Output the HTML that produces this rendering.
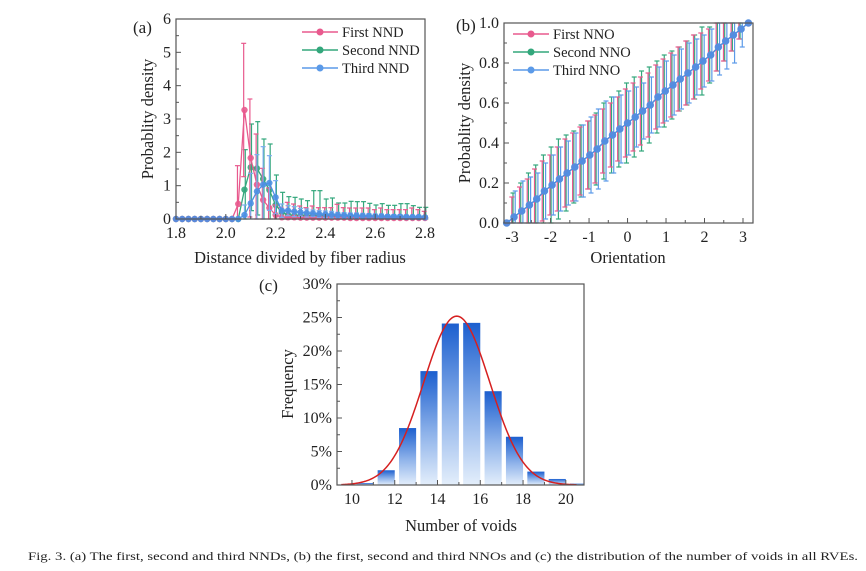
<!DOCTYPE html>
<html><head><meta charset="utf-8"><style>
html,body{margin:0;padding:0;background:#fff;}
svg{display:block;font-family:"Liberation Serif",serif;}
</style></head><body>
<svg id="fig" width="866" height="571" viewBox="0 0 866 571" xmlns="http://www.w3.org/2000/svg">
<defs>
<linearGradient id="barGrad" x1="0" y1="0" x2="0" y2="1">
<stop offset="0" stop-color="#1c5fcf"/><stop offset="0.55" stop-color="#8fb3ea"/><stop offset="1" stop-color="#e3eefb"/>
</linearGradient>
</defs>
<g id="pa"></g>
<g id="pb"></g>
<g id="pc"></g>
<text x="28" y="560" font-size="11.5" textLength="830" lengthAdjust="spacingAndGlyphs" fill="#222">Fig. 3. (a) The first, second and third NNDs, (b) the first, second and third NNOs and (c) the distribution of the number of voids in all RVEs.</text>
</svg>
<script>
// ---------- Panel A data ----------
const aX = [1.8,1.825,1.85,1.875,1.9,1.925,1.95,1.975,2.0,2.025,2.05,2.075,2.1,2.125,2.15,2.175,2.2,2.225,2.25,2.275,2.3,2.325,2.35,2.375,2.4,2.425,2.45,2.475,2.5,2.525,2.55,2.575,2.6,2.625,2.65,2.675,2.7,2.725,2.75,2.775,2.8];
const aFirst = [0,0,0,0,0,0,0,0,0,0,0.45,3.27,1.83,1.03,0.57,0.33,0.12,0.05,0.05,0.05,0.04,0.04,0.04,0.04,0.04,0.04,0.04,0.04,0.03,0.03,0.03,0.03,0.03,0.03,0.03,0.03,0.03,0.03,0.03,0.03,0.03];
const aFirstErr = [0,0,0,0,0,0,0,0,0,0,1.15,2.0,1.77,1.52,0.95,0.6,0.3,0.3,0.45,0.4,0.35,0.3,0.35,0.3,0.3,0.3,0.4,0.3,0.3,0.3,0.3,0.3,0.25,0.3,0.25,0.25,0.25,0.25,0.3,0.25,0.2];
const aSecond = [0,0,0,0,0,0,0,0,0,0,0,0.88,1.55,1.52,1.2,0.87,0.42,0.2,0.12,0.1,0.1,0.1,0.1,0.1,0.1,0.08,0.08,0.08,0.08,0.07,0.07,0.07,0.07,0.06,0.06,0.06,0.06,0.06,0.05,0.05,0.05];
const aSecondErr = [0,0,0,0,0,0,0,0,0,0,0,1.2,1.3,1.4,1.2,1.38,0.9,0.6,0.55,0.55,0.5,0.45,0.75,0.75,0.5,0.55,0.4,0.4,0.45,0.45,0.45,0.4,0.35,0.4,0.35,0.35,0.4,0.4,0.35,0.3,0.3];
const aThird = [0,0,0,0,0,0,0,0,0,0,0,0.12,0.47,0.83,1.03,1.08,0.65,0.25,0.25,0.22,0.2,0.18,0.17,0.15,0.14,0.13,0.12,0.11,0.1,0.1,0.09,0.09,0.08,0.08,0.07,0.07,0.07,0.06,0.06,0.06,0.05];
const aThirdErr = [0,0,0,0,0,0,0,0,0,0,0,0.3,0.9,1.1,1.14,0.82,0.5,0.2,0.15,0.15,0.12,0.12,0.1,0.1,0.1,0.1,0.08,0.08,0.08,0.08,0.08,0.07,0.07,0.07,0.06,0.06,0.06,0.06,0.05,0.05,0.05];
const aXTicks = [1.8,2.0,2.2,2.4,2.6,2.8];
const aYTicks = [0,1,2,3,4,5,6];
// ---------- Panel B data ----------
const bX = [-3.14,-2.95,-2.75,-2.55,-2.36,-2.16,-1.96,-1.77,-1.57,-1.37,-1.18,-0.98,-0.79,-0.59,-0.39,-0.2,0,0.2,0.39,0.59,0.79,0.98,1.18,1.37,1.57,1.77,1.96,2.16,2.36,2.55,2.75,2.95,3.14];
const bMean = [0,0.03,0.06,0.09,0.12,0.16,0.19,0.22,0.25,0.28,0.31,0.34,0.37,0.41,0.44,0.47,0.5,0.53,0.56,0.59,0.63,0.66,0.69,0.72,0.75,0.78,0.81,0.84,0.88,0.91,0.94,0.97,1.0];
const bFirstErr = [0,0.1,0.12,0.13,0.15,0.15,0.15,0.16,0.17,0.17,0.17,0.17,0.17,0.16,0.16,0.16,0.17,0.17,0.17,0.16,0.16,0.16,0.16,0.16,0.16,0.16,0.14,0.13,0.12,0.1,0.08,0.05,0];
const bSecondErr = [0,0.12,0.14,0.16,0.17,0.18,0.19,0.2,0.19,0.18,0.18,0.17,0.18,0.19,0.19,0.19,0.2,0.2,0.2,0.19,0.18,0.18,0.17,0.16,0.16,0.16,0.17,0.14,0.12,0.1,0.08,0.05,0];
const bThirdErr = [0,0.13,0.15,0.14,0.13,0.14,0.15,0.16,0.16,0.17,0.18,0.19,0.2,0.2,0.19,0.17,0.16,0.15,0.14,0.14,0.15,0.15,0.15,0.15,0.15,0.14,0.13,0.13,0.14,0.14,0.14,0.09,0];
const bXTicks = [-3,-2,-1,0,1,2,3];
const bYTicks = [0,0.2,0.4,0.6,0.8,1.0];
// ---------- Panel C data ----------
const cBins = [10.6,11.6,12.6,13.6,14.6,15.6,16.6,17.6,18.6,19.6,20.6];
const cFreq = [0.3,2.2,8.5,17.0,24.1,24.2,14.0,7.2,2.0,0.9,0.2];
const cFitMean = [14.9];
const cFitPeak = [25.2];
const cFitSigma = [1.55];
const cXTicks = [10,12,14,16,18,20];
const cYTicks = [0,5,10,15,20,25,30];

const NS = "http://www.w3.org/2000/svg";
function el(parent, tag, attrs, text){
  const e = document.createElementNS(NS, tag);
  for (const k in attrs) e.setAttribute(k, attrs[k]);
  if (text !== undefined) e.textContent = text;
  parent.appendChild(e);
  return e;
}
function lin(d0,d1,r0,r1){ return v => r0 + (v-d0)/(d1-d0)*(r1-r0); }

function frame(g, L, T, R, B, sx, sy, xt, yt, xfmt, yfmt, minorX, minorY){
  const f = el(g,'rect',{x:L,y:T,width:R-L,height:B-T,fill:'none',stroke:'#555','stroke-width':1.2});
  
  
  xt.forEach(v=>{
    const x = sx(v);
    const t = el(g,'line',{x1:x,y1:B,x2:x,y2:B-5,stroke:'#555'});
    
    
    const lb = el(g,'text',{x:x,y:B+19,'font-size':16,'text-anchor':'middle',fill:'#222'},xfmt(v));
    
    
  });
  minorX.forEach(v=>{ el(g,'line',{x1:sx(v),y1:B,x2:sx(v),y2:B-3,stroke:'#555'}); });
  yt.forEach(v=>{
    const y = sy(v);
    const t = el(g,'line',{x1:L,y1:y,x2:L+5,y2:y,stroke:'#555'});
    
    
    const lb = el(g,'text',{x:L-5,y:y+5,'font-size':16,'text-anchor':'end',fill:'#222'},yfmt(v));
    
    
  });
  minorY.forEach(v=>{ el(g,'line',{x1:L,y1:sy(v),x2:L+3,y2:sy(v),stroke:'#555'}); });
}

function series(g, xs, ys, errs, sx, sy, color, errColor, r, name, dx, clipTop){
  const sg = el(g,'g',{});
  
  
  xs.forEach((v,i)=>{
    if (errs[i] <= 0) return;
    const x = sx(v)+dx;
    let yt = sy(ys[i]+errs[i]); if (yt < clipTop) yt = clipTop;
    const yb = sy(Math.max(0, ys[i]-errs[i]));
    el(sg,'line',{x1:x,y1:yt,x2:x,y2:yb,stroke:errColor,'stroke-width':1.2});
    el(sg,'line',{x1:x-2.5,y1:yt,x2:x+2.5,y2:yt,stroke:errColor,'stroke-width':1.2});
    el(sg,'line',{x1:x-2.5,y1:yb,x2:x+2.5,y2:yb,stroke:errColor,'stroke-width':1.2});
  });
  const pts = xs.map((v,i)=>sx(v)+','+sy(ys[i])).join(' ');
  el(sg,'polyline',{points:pts,fill:'none',stroke:color,'stroke-width':1.3});
  xs.forEach((v,i)=>{
    const c = el(sg,'circle',{cx:sx(v),cy:sy(ys[i]),r:r,fill:color,'fill-opacity':0.9});
    
    
  });
}

function legend(g, x, y, entries){
  entries.forEach((e,i)=>{
    const lg = el(g,'g',{});
    
    
    const yy = y + i*18;
    el(lg,'line',{x1:x,y1:yy,x2:x+36,y2:yy,stroke:e[1],'stroke-width':1.5});
    el(lg,'circle',{cx:x+18,cy:yy,r:3.5,fill:e[1]});
    el(lg,'text',{x:x+40,y:yy+5,'font-size':14.5,fill:'#222'},e[0]);
  });
}

function axisTitle(g, x, y, txt, rot, name){
  const t = el(g,'text',{x:x,y:y,'font-size':16.5,'text-anchor':'middle',fill:'#222',transform: rot?`rotate(-90 ${x} ${y})`:''},txt);
  
  
}

// ---- Panel A ----
(function(){
  const g = document.getElementById('pa');
  const L=176,R=425,T=19,B=219;
  const sx = lin(1.8,2.8,L,R), sy = lin(0,6,B,T);
  const pink='#e85a8e', green='#33a77c', blue='#4d8fe3';
  series(g,aX,aSecond,aSecondErr,sx,sy,green,green,3.2,'second-nnd-series',0.8,T);
  series(g,aX,aFirst,aFirstErr,sx,sy,pink,pink,3.2,'first-nnd-series',-0.8,T);
  series(g,aX,aThird,aThirdErr,sx,sy,blue,'#7aaef0',3.2,'third-nnd-series',0,T);
  frame(g,L,T,R,B,sx,sy,aXTicks,aYTicks,v=>v.toFixed(1),v=>String(v),[1.9,2.1,2.3,2.5,2.7],[0.5,1.5,2.5,3.5,4.5,5.5]);
  legend(g,302,32,[['First NND',pink],['Second NND',green],['Third NND','#5b9ae8']]);
  axisTitle(g,153,119,'Probablity density',true,'y-axis-title');
  axisTitle(g,300,263,'Distance divided by fiber radius',false,'x-axis-title');
  const p = el(g,'text',{x:133,y:33,'font-size':17,fill:'#222'},'(a)');
   
})();

// ---- Panel B ----
(function(){
  const g = document.getElementById('pb');
  const L=504,R=753,T=23,B=223;
  const sx = lin(-3.21,3.26,L,R), sy = lin(0,1,B,T);
  const pink='#e85a8e', green='#33a77c', blue='#4d8fe3';
  series(g,bX,bMean,bSecondErr,sx,sy,green,green,3.4,'second-nno-series',-1,T);
  series(g,bX,bMean,bFirstErr,sx,sy,pink,pink,3.4,'first-nno-series',-2.2,T);
  series(g,bX,bMean,bThirdErr,sx,sy,blue,'#5b9ae8',3.8,'third-nno-series',1.2,T);
  frame(g,L,T,R,B,sx,sy,bXTicks,bYTicks,v=>String(v),v=>v.toFixed(1),[-2.5,-1.5,-0.5,0.5,1.5,2.5],[0.1,0.3,0.5,0.7,0.9]);
  el(g,'rect',{x:510,y:25,width:120,height:55,fill:'#fff','fill-opacity':0.6});
  legend(g,513,34,[['First NNO',pink],['Second NNO',green],['Third NNO','#5b9ae8']]);
  axisTitle(g,470,123,'Probablity density',true,'y-axis-title');
  axisTitle(g,628,263,'Orientation',false,'x-axis-title');
  const p = el(g,'text',{x:456,y:31,'font-size':17,fill:'#222'},'(b)');
   
})();

// ---- Panel C ----
(function(){
  const g = document.getElementById('pc');
  const L=337,R=584,T=284,B=485;
  const sx = lin(9.3,20.85,L,R), sy = lin(0,30,B,T);
  const cp = el(g,'clipPath',{id:'cclip'}); el(cp,'rect',{x:L,y:T,width:R-L,height:B-T});
  const bg = el(g,'g',{'clip-path':'url(#cclip)'});
  cBins.forEach((c,i)=>{
    const x0 = sx(c-0.4), x1 = sx(c+0.4);
    const b = el(bg,'rect',{x:x0,y:sy(cFreq[i]),width:x1-x0,height:B-sy(cFreq[i]),fill:'url(#barGrad)'});
    
    
  });
  const pts=[];
  for(let v=9.5; v<=20.51; v+=0.05){
    const f = cFitPeak[0]*Math.exp(-Math.pow(v-cFitMean[0],2)/(2*cFitSigma[0]*cFitSigma[0]));
    pts.push(sx(v)+','+sy(f));
  }
  const fit = el(g,'polyline',{points:pts.join(' '),fill:'none',stroke:'#d62020','stroke-width':1.5});
  
  
  frame(g,L,T,R,B,sx,sy,cXTicks,cYTicks,v=>String(v),v=>v+'%',[11,13,15,17,19],[2.5,7.5,12.5,17.5,22.5,27.5]);
  axisTitle(g,293,384,'Frequency',true,'y-axis-title');
  axisTitle(g,461,531,'Number of voids',false,'x-axis-title');
  const p = el(g,'text',{x:259,y:291,'font-size':17,fill:'#222'},'(c)');
   
})();
</script>
</body></html>
